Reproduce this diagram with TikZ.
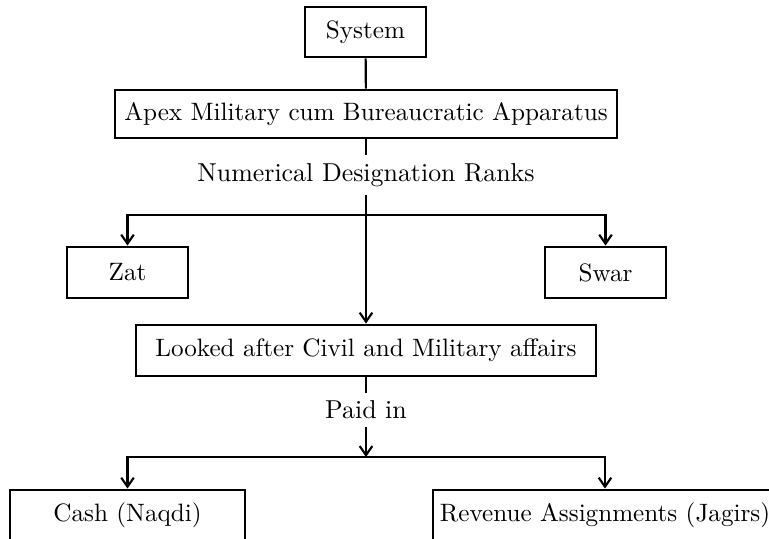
\documentclass[tikz,border=0pt]{standalone}
\usetikzlibrary{arrows.meta}
\newcommand\pxu{0.3977pt}
\begin{document}
\begin{tikzpicture}[x=0.3977pt,y=-0.3977pt,
  box/.style={draw, line width=1.15pt, rectangle, inner sep=0pt, font=\fontsize{10}{12}\selectfont},
  lbl/.style={inner sep=3pt, font=\fontsize{10.3}{12}\selectfont},
  conn/.style={line width=0.85pt},
  arr/.style={conn, -{Straight Barb[length=3.6pt,width=5pt]}}]
\useasboundingbox (0,0) rectangle (769,538);
\clip (0,0) rectangle (769,538);
\node[box, minimum width=121*\pxu, minimum height=50*\pxu] (sys) at (365.5,32) {System};
\node[box, minimum width=502*\pxu, minimum height=48*\pxu] (apex) at (366,114) {Apex Military cum Bureaucratic Apparatus};
\node[lbl] (num) at (366,175) {Numerical Designation Ranks};
\node[box, minimum width=121*\pxu, minimum height=51*\pxu] (zat) at (127.5,272.5) {Zat};
\node[box, minimum width=121*\pxu, minimum height=51*\pxu] (swar) at (605.5,272.5) {Swar};
\node[box, minimum width=460*\pxu, minimum height=51*\pxu] (look) at (366,350.5) {Looked after Civil and Military affairs};
\node[lbl] (paid) at (366,410) {Paid in};
\node[box, minimum width=235*\pxu, minimum height=50*\pxu] (cash) at (127.5,515) {Cash (Naqdi)};
\node[box, minimum width=344*\pxu, minimum height=50*\pxu] (rev) at (605,515) {Revenue Assignments (Jagirs)};
\coordinate (b1) at (366,215);
\coordinate (b2) at (366,457);
\draw[conn] (sys) -- (apex);
\draw[conn] (apex) -- (num);
\draw[arr] (num) -- (look);
\draw[arr] (b1) -| (zat);
\draw[arr] (b1) -| (swar);
\draw[conn] (look) -- (paid);
\draw[arr] (paid) -- (b2);
\draw[arr] (b2) -| (cash);
\draw[arr] (b2) -| (rev);
\end{tikzpicture}
\end{document}
